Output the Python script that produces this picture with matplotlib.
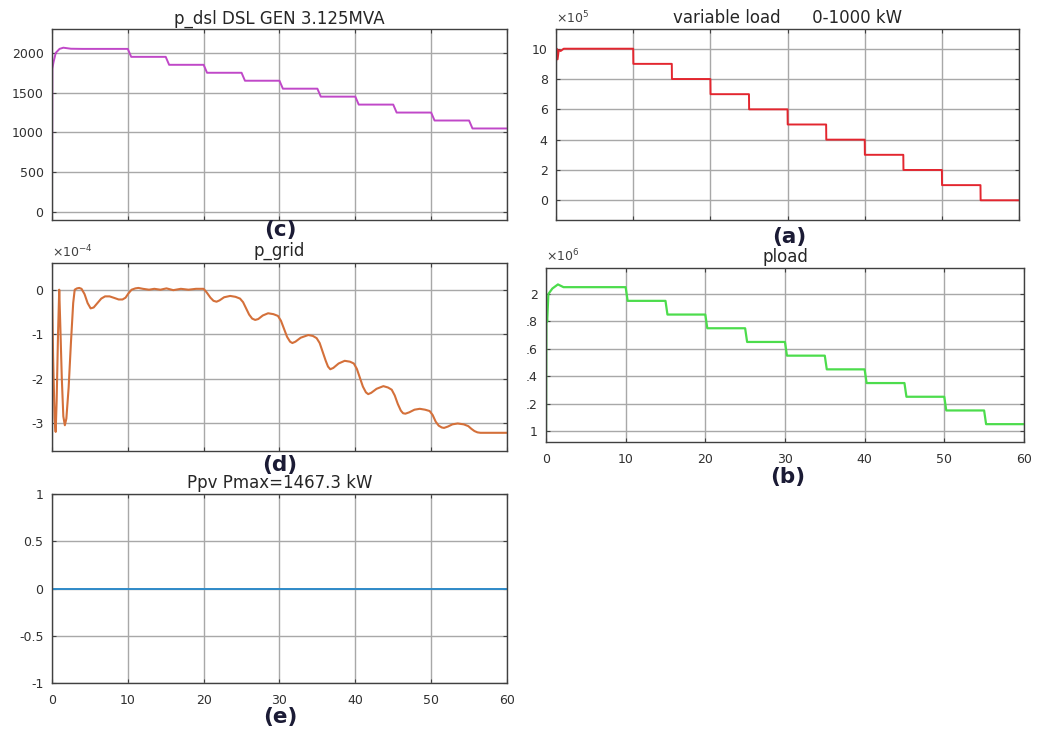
import numpy as np
import matplotlib.pyplot as plt

plt.rcParams['font.family'] = ['DejaVu Sans']
plt.rcParams['axes.unicode_minus'] = False

# ---- data ----
# step changes every 5 s from t = 10 s
step_t = [10, 15, 20, 25, 30, 35, 40, 45, 50, 55]

# (c) p_dsl  [kW]
dsl_start_t = [0, 0.05, 0.2, 0.5, 1.0, 1.5, 2.5, 4.0]
dsl_start_v = [0, 1800, 1880, 2000, 2050, 2065, 2052, 2050]
dsl_levels = [2050, 1950, 1850, 1750, 1650, 1550, 1450, 1350, 1250, 1150, 1050]

# (a) variable load  [x1e5 W]
load_start_t = [0, 0.08, 0.2, 0.35, 0.6, 1.0]
load_start_v = [9.1, 10.0, 9.3, 9.9, 9.85, 10.0]
load_levels = [10, 9, 8, 7, 6, 5, 4, 3, 2, 1, 0]

# (b) pload  [x1e6 W]
pload_start_t = [0, 0.05, 0.15, 0.3, 0.8, 1.5, 2.2, 3.0]
pload_start_v = [1.0, 1.85, 1.80, 2.0, 2.04, 2.07, 2.05, 2.05]
pload_levels = [2.05, 1.95, 1.85, 1.75, 1.65, 1.55, 1.45, 1.35, 1.25, 1.15, 1.05]

# (d) p_grid  [x1e-4]
grid_t = [0, 0.15, 0.35, 0.49, 0.62, 0.8, 0.96, 1.1, 1.3, 1.5, 1.7, 1.9, 2.2, 2.5, 2.8,
          3.0, 3.3, 3.6, 3.9, 4.3, 4.7, 5.1, 5.5, 6.0, 6.5, 7.0, 7.6, 8.3, 8.8, 9.3, 9.7,
          10.1, 10.5, 11.0, 11.4, 12.0, 12.8, 13.5, 14.3, 15.1, 16.0, 17.0, 18.0, 19.0, 19.6,
          20.0, 20.4, 20.9, 21.3, 21.7, 22.1, 22.7, 23.5, 24.2, 24.8, 25.2, 25.6, 26.0, 26.4,
          26.8, 27.2, 27.8, 28.5, 29.2, 29.8, 30.2, 30.6, 31.0, 31.4, 31.7, 32.1, 32.8, 33.8,
          34.4, 34.9, 35.3, 35.7, 36.1, 36.4, 36.7, 37.1, 37.8, 38.6, 39.3, 39.8, 40.2, 40.6,
          41.0, 41.4, 41.7, 42.1, 42.8, 43.7, 44.3, 44.8, 45.2, 45.6, 46.0, 46.3, 46.6, 47.1,
          47.8, 48.5, 49.2, 49.8, 50.2, 50.6, 51.0, 51.4, 51.7, 52.2, 52.8, 53.5, 54.3, 54.9,
          55.3, 55.7, 56.1, 56.5, 57.5, 60.0]
grid_v = [0, -1.5, -2.9, -3.2, -2.5, -1.0, 0.0, -0.8, -2.0, -2.85, -3.05, -2.9, -2.2, -1.2, -0.3,
          0.0, 0.03, 0.04, 0.02, -0.1, -0.3, -0.42, -0.4, -0.3, -0.2, -0.15, -0.15, -0.19, -0.22, -0.22, -0.18,
          -0.08, 0.0, 0.03, 0.04, 0.02, 0.0, 0.02, 0.0, 0.03, -0.01, 0.02, 0.0, 0.02, 0.02,
          0.02, -0.06, -0.18, -0.25, -0.27, -0.24, -0.17, -0.14, -0.16, -0.2, -0.28, -0.42, -0.56, -0.65,
          -0.68, -0.66, -0.58, -0.53, -0.55, -0.59, -0.7, -0.88, -1.06, -1.17, -1.2, -1.17, -1.08, -1.02,
          -1.04, -1.09, -1.2, -1.4, -1.6, -1.73, -1.79, -1.76, -1.66, -1.6, -1.62, -1.66, -1.78, -1.98,
          -2.18, -2.31, -2.35, -2.32, -2.23, -2.17, -2.2, -2.25, -2.38, -2.57, -2.72, -2.78, -2.79, -2.76,
          -2.7, -2.68, -2.7, -2.73, -2.82, -2.97, -3.06, -3.1, -3.11, -3.08, -3.03, -3.01, -3.03, -3.07,
          -3.13, -3.18, -3.21, -3.22, -3.22, -3.22]

# (e) Ppv
pv_t = [0, 60]
pv_v = [0, 0]

xticks = [0, 10, 20, 30, 40, 50, 60]


def steps(start_t, start_v, levels, lag):
    t = list(start_t)
    v = list(start_v)
    for k, ts in enumerate(step_t):
        t += [ts, ts + lag]
        v += [levels[k], levels[k + 1]]
    t.append(60)
    v.append(levels[-1])
    return t, v


fig = plt.figure(figsize=(10.37, 7.36), dpi=100)

ax_c = fig.add_axes([0.0501, 0.7011, 0.4388, 0.2595])
ax_a = fig.add_axes([0.5362, 0.7011, 0.4465, 0.2595])
ax_d = fig.add_axes([0.0501, 0.3872, 0.4388, 0.2554])
ax_b = fig.add_axes([0.5265, 0.3995, 0.4609, 0.2364])
ax_e = fig.add_axes([0.0501, 0.0720, 0.4388, 0.2568])

t, v = steps(dsl_start_t, dsl_start_v, dsl_levels, 0.45)
ax_c.plot(t, v, color='#c048c8', lw=1.4)
t, v = steps(load_start_t, load_start_v, load_levels, 0.02)
ax_a.plot(t, v, color='#e3262f', lw=1.4)
t, v = steps(pload_start_t, pload_start_v, pload_levels, 0.25)
ax_b.plot(t, v, color='#4cdc4c', lw=1.6)
ax_d.plot(grid_t, grid_v, color='#d4703a', lw=1.5, solid_joinstyle='round')
ax_e.plot(pv_t, pv_v, color='#2e8bc9', lw=1.4)

for ax in [ax_c, ax_a, ax_d, ax_b, ax_e]:
    ax.set_xlim(0, 60)
    ax.set_xticks(xticks)
    ax.grid(True, color='#a8a8a8', lw=1.0)
    ax.set_axisbelow(True)
    for s in ax.spines.values():
        s.set_color('#404040')
        s.set_linewidth(1.0)
    ax.tick_params(direction='in', length=3, color='#404040', labelsize=9,
                   labelcolor='#303030', top=True, right=True, pad=6)
    ax.tick_params(axis='x', pad=8)

for ax in [ax_c, ax_a, ax_d]:
    ax.set_xticklabels([])

title_kw = dict(fontsize=12, color='#262626')

ax_c.set_ylim(-100, 2300)
ax_c.set_yticks([0, 500, 1000, 1500, 2000])
ax_c.set_title('p_dsl DSL GEN 3.125MVA', pad=4, **title_kw)

ax_a.set_ylim(-1.3, 11.3)
ax_a.set_yticks([0, 2, 4, 6, 8, 10])
ax_a.set_title('variable load      0-1000 kW', pad=4, **title_kw)
ax_a.text(0.0, 1.015, r'$\times10^{5}$', transform=ax_a.transAxes, fontsize=9,
          color='#404040', ha='left', va='bottom')

ax_d.set_ylim(-3.63, 0.6)
ax_d.set_yticks([-3, -2, -1, 0])
ax_d.set_title('p_grid', pad=5, **title_kw)
ax_d.text(0.0, 1.015, r'$\times10^{-4}$', transform=ax_d.transAxes, fontsize=9,
          color='#404040', ha='left', va='bottom')

ax_b.set_ylim(0.92, 2.19)
ax_b.set_yticks([1.0, 1.2, 1.4, 1.6, 1.8, 2.0])
ax_b.set_yticklabels(['1', '.2', '.4', '.6', '.8', '2'])
ax_b.set_title('pload', pad=4, **title_kw)
ax_b.text(0.0, 1.02, r'$\times10^{6}$', transform=ax_b.transAxes, fontsize=9,
          color='#404040', ha='left', va='bottom')

ax_e.set_ylim(-1, 1)
ax_e.set_yticks([-1, -0.5, 0, 0.5, 1])
ax_e.set_yticklabels(['-1', '-0.5', '0', '0.5', '1'])
ax_e.set_title('Ppv Pmax=1467.3 kW', pad=4, **title_kw)

# panel letters
for x, y, s in [(280, 230, '(c)'), (789, 237, '(a)'), (280, 465, '(d)'),
                (788, 477, '(b)'), (280, 717, '(e)')]:
    fig.text(x / 1037, 1 - y / 736, s, fontsize=15.5, fontweight='bold',
             color='#1b1b35', ha='center', va='center')

fig.savefig('out.png', dpi=100)
